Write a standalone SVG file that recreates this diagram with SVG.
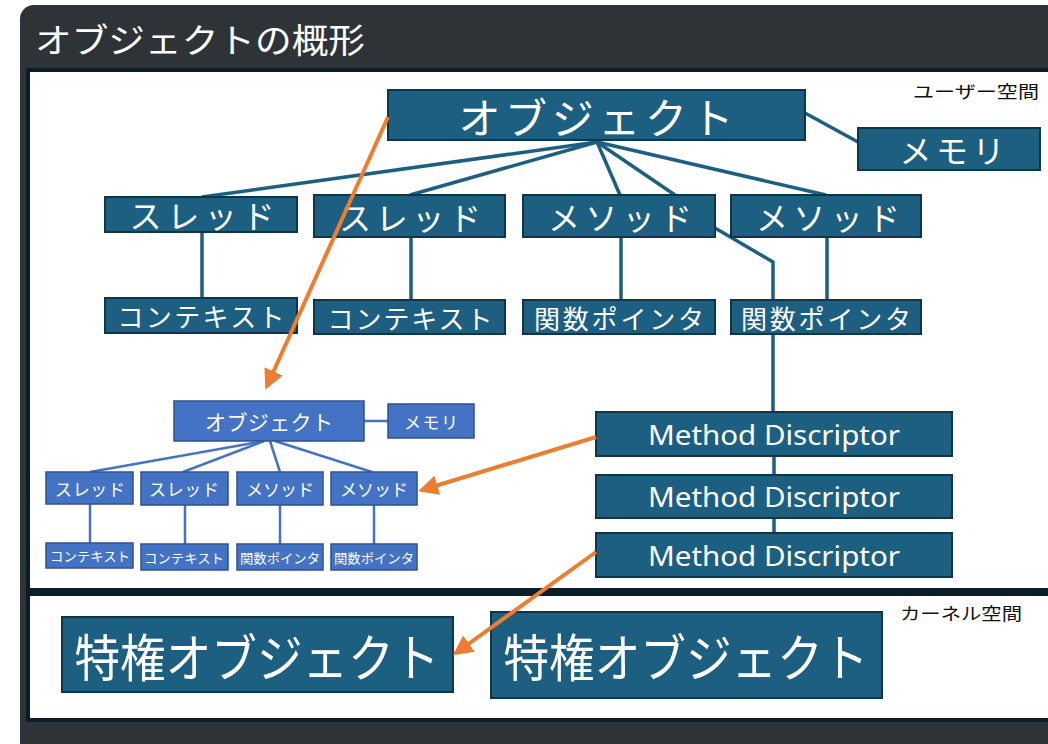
<svg xmlns="http://www.w3.org/2000/svg" width="1048" height="744" viewBox="0 0 1048 744">
<defs>
<style>
.jp{font-family:"Noto Sans CJK JP","Noto Sans",sans-serif;fill:#ffffff;text-anchor:middle;dominant-baseline:central}
.en{font-family:"Noto Sans","Open Sans",sans-serif;fill:#ffffff;text-anchor:middle;dominant-baseline:central}
.lbl{font-family:"Noto Sans CJK JP",sans-serif;fill:#111111;dominant-baseline:central}
.n{fill:#1c5f80;stroke:#0f3549;stroke-width:2}
.s{fill:#4472c4;stroke:#2f528f;stroke-width:1.5}
.c{stroke:#1c5f80;stroke-width:3.5;fill:none}
.cs{stroke:#4472c4;stroke-width:2.5;fill:none}
.o{stroke:#ed7d31;stroke-width:4;fill:none}
</style>
<marker id="ah" viewBox="0 0 10 10" refX="8" refY="5" markerWidth="5" markerHeight="5" orient="auto" markerUnits="strokeWidth">
<path d="M0,0 L10,5 L0,10 z" fill="#ed7d31"/>
</marker>
</defs>
<g id="frame">
<rect x="20" y="5" width="1060" height="760" rx="14" fill="#2e3338"/>
<text x="35" y="38" font-family="Noto Sans CJK JP,sans-serif" font-size="34" fill="#ffffff" dominant-baseline="central" textLength="330" lengthAdjust="spacingAndGlyphs">オブジェクトの概形</text>
<rect x="28" y="70" width="1030" height="520" fill="#ffffff" stroke="#0c1d2a" stroke-width="4"/>
<rect x="28" y="594" width="1030" height="126" fill="#ffffff" stroke="#0c1d2a" stroke-width="4"/>
<text class="lbl" x="913" y="90" font-size="17" textLength="126" lengthAdjust="spacingAndGlyphs">ユーザー空間</text>
<text class="lbl" x="900" y="612" font-size="17" textLength="122" lengthAdjust="spacingAndGlyphs">カーネル空間</text>
</g>
<g id="connectors">
<line class="c" x1="597" y1="142" x2="202" y2="197"/>
<line class="c" x1="597" y1="142" x2="410" y2="195"/>
<line class="c" x1="597" y1="142" x2="620" y2="195"/>
<line class="c" x1="597" y1="142" x2="675" y2="195"/>
<line class="c" x1="597" y1="142" x2="826" y2="195"/>
<line class="c" x1="805" y1="113" x2="858" y2="142"/>
<line class="c" x1="202" y1="232" x2="202" y2="298"/>
<line class="c" x1="411" y1="237" x2="411" y2="300"/>
<line class="c" x1="621" y1="237" x2="621" y2="300"/>
<line class="c" x1="827" y1="237" x2="827" y2="300"/>
<polyline class="c" points="715,228 773,262 773,412"/>
<line class="c" x1="774" y1="456" x2="774" y2="475"/>
<line class="c" x1="774" y1="518" x2="774" y2="533"/>
<line class="cs" x1="264" y1="441" x2="90" y2="472"/>
<line class="cs" x1="264" y1="441" x2="183" y2="472"/>
<line class="cs" x1="270" y1="441" x2="280" y2="472"/>
<line class="cs" x1="275" y1="441" x2="372" y2="472"/>
<line class="cs" x1="364" y1="421" x2="388" y2="421"/>
<line class="cs" x1="90" y1="504" x2="90" y2="543"/>
<line class="cs" x1="185" y1="505" x2="185" y2="544"/>
<line class="cs" x1="280" y1="505" x2="280" y2="544"/>
<line class="cs" x1="374" y1="505" x2="374" y2="544"/>
</g>
<g id="obj"><rect class="n" x="388" y="90" width="417" height="50"/><text class="jp" x="596" y="115" font-size="42" textLength="275" lengthAdjust="spacing">オブジェクト</text></g>
<g id="mem"><rect class="n" x="858" y="128" width="182" height="42"/><text class="jp" x="952" y="149" font-size="32" textLength="105" lengthAdjust="spacing">メモリ</text></g>
<g id="th1"><rect class="n" x="105" y="197" width="192" height="35"/><text class="jp" x="202" y="214" font-size="32" textLength="145" lengthAdjust="spacing">スレッド</text></g>
<g id="th2"><rect class="n" x="314" y="195" width="191" height="42"/><text class="jp" x="410" y="216" font-size="32" textLength="142" lengthAdjust="spacing">スレッド</text></g>
<g id="me1"><rect class="n" x="523" y="195" width="192" height="42"/><text class="jp" x="620" y="216" font-size="32" textLength="144" lengthAdjust="spacing">メソッド</text></g>
<g id="me2"><rect class="n" x="731" y="195" width="190" height="42"/><text class="jp" x="828" y="216" font-size="32" textLength="144" lengthAdjust="spacing">メソッド</text></g>
<g id="ctx1"><rect class="n" x="105" y="298" width="192" height="35"/><text class="jp" x="201" y="315" font-size="26" textLength="167" lengthAdjust="spacing">コンテキスト</text></g>
<g id="ctx2"><rect class="n" x="314" y="300" width="191" height="34"/><text class="jp" x="410" y="317" font-size="26" textLength="165" lengthAdjust="spacing">コンテキスト</text></g>
<g id="fp1"><rect class="n" x="523" y="300" width="192" height="34"/><text class="jp" x="619" y="317" font-size="26" textLength="170" lengthAdjust="spacing">関数ポインタ</text></g>
<g id="fp2"><rect class="n" x="731" y="300" width="190" height="34"/><text class="jp" x="826" y="317" font-size="26" textLength="170" lengthAdjust="spacing">関数ポインタ</text></g>
<g id="md1"><rect class="n" x="596" y="412" width="356" height="44"/><text class="en" x="774" y="434" font-size="28" textLength="252" lengthAdjust="spacingAndGlyphs">Method Discriptor</text></g>
<g id="md2"><rect class="n" x="596" y="475" width="356" height="43"/><text class="en" x="774" y="496" font-size="28" textLength="252" lengthAdjust="spacingAndGlyphs">Method Discriptor</text></g>
<g id="md3"><rect class="n" x="596" y="533" width="356" height="44"/><text class="en" x="774" y="555" font-size="28" textLength="252" lengthAdjust="spacingAndGlyphs">Method Discriptor</text></g>
<g id="sobj"><rect class="s" x="174" y="401" width="190" height="40"/><text class="jp" x="269" y="421" font-size="21" textLength="128" lengthAdjust="spacing">オブジェクト</text></g>
<g id="smem"><rect class="s" x="388" y="404" width="86" height="34"/><text class="jp" x="431" y="421" font-size="17" textLength="54" lengthAdjust="spacing">メモリ</text></g>
<g id="sth1"><rect class="s" x="46" y="472" width="87" height="32"/><text class="jp" x="90" y="488" font-size="17" textLength="70" lengthAdjust="spacing">スレッド</text></g>
<g id="sth2"><rect class="s" x="141" y="472" width="87" height="33"/><text class="jp" x="184" y="488" font-size="17" textLength="70" lengthAdjust="spacing">スレッド</text></g>
<g id="sme1"><rect class="s" x="237" y="472" width="86" height="33"/><text class="jp" x="280" y="488" font-size="17" textLength="68" lengthAdjust="spacing">メソッド</text></g>
<g id="sme2"><rect class="s" x="331" y="472" width="86" height="33"/><text class="jp" x="374" y="488" font-size="17" textLength="68" lengthAdjust="spacing">メソッド</text></g>
<g id="sctx1"><rect class="s" x="46" y="543" width="87" height="25"/><text class="jp" x="90" y="555" font-size="13" textLength="80" lengthAdjust="spacingAndGlyphs">コンテキスト</text></g>
<g id="sctx2"><rect class="s" x="141" y="544" width="87" height="26"/><text class="jp" x="184" y="557" font-size="13" textLength="80" lengthAdjust="spacingAndGlyphs">コンテキスト</text></g>
<g id="sfp1"><rect class="s" x="237" y="544" width="86" height="26"/><text class="jp" x="280" y="557" font-size="13" textLength="80" lengthAdjust="spacingAndGlyphs">関数ポインタ</text></g>
<g id="sfp2"><rect class="s" x="331" y="544" width="86" height="26"/><text class="jp" x="374" y="557" font-size="13" textLength="80" lengthAdjust="spacingAndGlyphs">関数ポインタ</text></g>
<g id="priv1"><rect class="n" x="62" y="617" width="391" height="75"/><text class="jp" x="257" y="655" font-size="51" textLength="365" lengthAdjust="spacingAndGlyphs">特権オブジェクト</text></g>
<g id="priv2"><rect class="n" x="491" y="612" width="391" height="86"/><text class="jp" x="686" y="655" font-size="51" textLength="365" lengthAdjust="spacingAndGlyphs">特権オブジェクト</text></g>
<g id="arrows">
<line class="o" x1="388" y1="117" x2="267" y2="386" marker-end="url(#ah)"/>
<line class="o" x1="596" y1="437" x2="422" y2="490" marker-end="url(#ah)"/>
<line class="o" x1="596" y1="552" x2="456" y2="653" marker-end="url(#ah)"/>
</g>
</svg>
